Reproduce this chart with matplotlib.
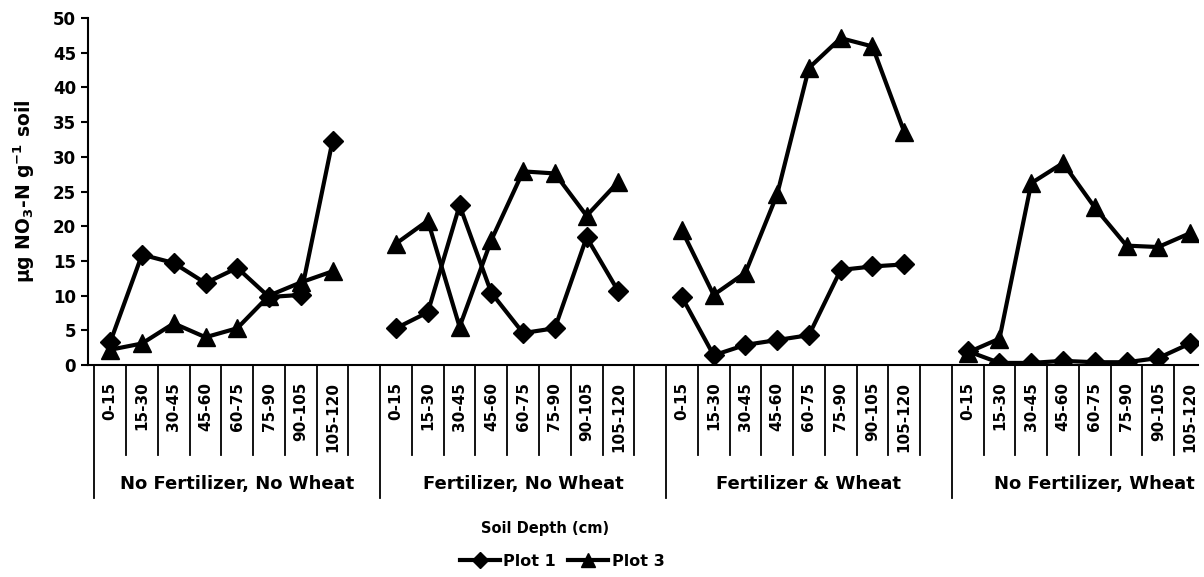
import matplotlib
matplotlib.use("Agg")
import matplotlib.pyplot as plt

plt.rcParams['font.family'] = ['DejaVu Sans']
plt.rcParams['font.weight'] = 'bold'
plt.rcParams['mathtext.fontset'] = 'custom'
plt.rcParams['mathtext.rm'] = 'DejaVu Sans:bold'
plt.rcParams['mathtext.bf'] = 'DejaVu Sans:bold'
plt.rcParams['mathtext.it'] = 'DejaVu Sans:bold'
plt.rcParams['mathtext.default'] = 'bf'

depths = ['0-15', '15-30', '30-45', '45-60', '60-75', '75-90', '90-105', '105-120']
groups = ['No Fertilizer, No Wheat', 'Fertilizer, No Wheat', 'Fertilizer & Wheat', 'No Fertilizer, Wheat']

plot1 = [
    [3.3, 15.9, 14.7, 11.8, 14.0, 9.8, 10.1, 32.3],
    [5.3, 7.6, 23.0, 10.4, 4.6, 5.3, 18.4, 10.6],
    [9.8, 1.4, 2.9, 3.6, 4.3, 13.7, 14.2, 14.5],
    [2.0, 0.3, 0.3, 0.6, 0.4, 0.4, 1.0, 3.1],
]
plot3 = [
    [2.2, 3.1, 6.0, 4.0, 5.3, 10.0, 11.9, 13.5],
    [17.5, 20.8, 5.5, 18.0, 27.9, 27.6, 21.5, 26.4],
    [19.4, 10.1, 13.3, 24.6, 42.8, 47.1, 45.9, 33.6],
    [1.8, 3.8, 26.2, 29.1, 22.7, 17.2, 17.0, 19.0],
]

step = len(depths) + 1  # one blank category between groups

fig = plt.figure(figsize=(12.04, 5.77), dpi=100)
ax = fig.add_axes([0.0731, 0.3674, 0.9219, 0.6014])

for g in range(len(groups)):
    xs = [g * step + i for i in range(len(depths))]
    ax.plot(xs, plot1[g], color='black', lw=3, marker='D', ms=10.5,
            label='Plot 1' if g == 0 else None)
    ax.plot(xs, plot3[g], color='black', lw=3, marker='^', ms=12.5,
            label='Plot 3' if g == 0 else None)

ax.set_ylim(0, 50)
ax.set_yticks(range(0, 51, 5))
ax.set_xlim(-0.7, 34.25)
for s in ['top', 'right']:
    ax.spines[s].set_visible(False)
ax.spines['left'].set_linewidth(1.5)
ax.spines['bottom'].set_linewidth(1.5)
ax.tick_params(axis='y', labelsize=12, width=1.5, length=5)

ticks = []
labels = []
for g in range(len(groups)):
    for i, d in enumerate(depths):
        ticks.append(g * step + i)
        labels.append(d)
ax.set_xticks(ticks)
ax.set_xticklabels(labels, rotation=90, fontsize=11)
ax.tick_params(axis='x', length=0, pad=12)

# category separators and group separators
trans = ax.get_xaxis_transform()
for g in range(len(groups)):
    start = g * step - 0.5
    ax.plot([start, start], [0, -0.383], transform=trans, color='black', lw=1.3, clip_on=False)
    for i in range(1, len(depths) + 1):
        xb = g * step + i - 0.5
        ax.plot([xb, xb], [0, -0.259], transform=trans, color='black', lw=1.3, clip_on=False)
    mid = g * step + len(depths) / 2
    ax.text(mid, -0.343, groups[g], transform=trans, ha='center', va='center', fontsize=13)

ax.set_ylabel('µg NO$_3$-N g$^{-1}$ soil', fontsize=13.5, fontweight='bold')
ax.yaxis.set_label_coords(-0.046, 0.5)

fig.text(545 / 1204, 1 - 528 / 577, 'Soil Depth (cm)', ha='center', va='center', fontsize=10.5)

handles, lab = ax.get_legend_handles_labels()
fig.legend(handles, lab, loc='center', bbox_to_anchor=(562 / 1204, 1 - 561 / 577), ncol=2,
           frameon=False, fontsize=11.5, handlelength=2.5, columnspacing=0.8, handletextpad=0.2,
           markerscale=0.75)

fig.savefig('out.png', dpi=100)
